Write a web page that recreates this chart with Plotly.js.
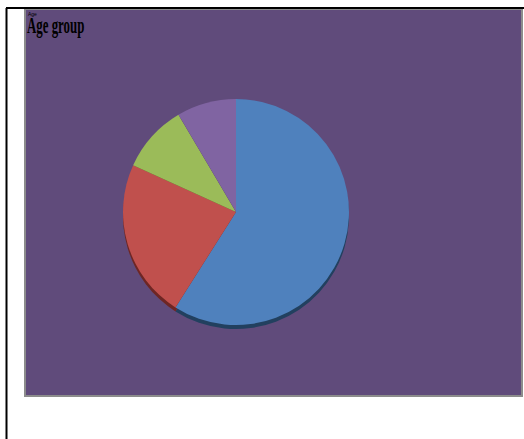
<!DOCTYPE html>
<html>
<head>
<meta charset="utf-8">
<script src="https://cdn.plot.ly/plotly-3.0.1.min.js"></script>
<style>html,body{margin:0;padding:0;background:#fff;}#chart{width:524px;height:439px;}
.annotation.title-anno text{transform-box:fill-box;transform-origin:0 100%;transform:scaleX(0.56);}
</style>
</head>
<body>
<div id="chart"></div>
<script>
var categories = ["Group 1", "Group 2", "Group 3", "Group 4"];
var values = [59.0, 22.8, 9.7, 8.5];
var sliceColors = ["#4F81BD", "#C0504D", "#9BBB59", "#8064A2"];
var shadowColors = ["#22405F", "#6E2624", "#4E6528", "#413054"];
var chartTitle = "Age group";
var smallLabel = "Age";

var W = 524, H = 439;
function px(x){ return x / W; }
function py(y){ return 1 - y / H; }

var cx = 236, cy = 212, r = 113;

var shadow = {
  type: "pie", values: values, labels: categories, sort: false, direction: "clockwise", rotation: 0,
  marker: {colors: shadowColors, line: {width: 0}},
  textinfo: "none", hoverinfo: "none", showlegend: false,
  domain: {x: [px(cx - r), px(cx + r)], y: [py(cy + 4 + r), py(cy + 4 - r)]}
};
var pie = {
  type: "pie", values: values, labels: categories, sort: false, direction: "clockwise", rotation: 0,
  marker: {colors: sliceColors, line: {width: 0}},
  textinfo: "none", hoverinfo: "label+percent", showlegend: false,
  domain: {x: [px(cx - r), px(cx + r)], y: [py(cy + r), py(cy - r)]}
};

var layout = {
  width: W, height: H,
  margin: {l: 0, r: 0, t: 0, b: 0},
  paper_bgcolor: "#ffffff",
  showlegend: false,
  shapes: [
    {type: "rect", xref: "paper", yref: "paper", x0: px(25), x1: px(522), y0: py(396), y1: py(9),
     fillcolor: "#604B7B", line: {color: "#8C8C8C", width: 2}, layer: "below"},
    {type: "line", xref: "paper", yref: "paper", x0: px(6.5), x1: px(6.5), y0: 0, y1: py(8),
     line: {color: "#000000", width: 2}},
    {type: "line", xref: "paper", yref: "paper", x0: px(6), x1: 1, y0: py(8), y1: py(8),
     line: {color: "#000000", width: 2}}
  ],
  annotations: [
    {text: "<b>" + chartTitle + "</b>", xref: "paper", yref: "paper", x: px(25), y: py(11),
     xanchor: "left", yanchor: "top", showarrow: false,
     font: {family: "Liberation Serif", size: 23, color: "#000000"}},
    {text: smallLabel, xref: "paper", yref: "paper", x: px(26), y: py(9),
     xanchor: "left", yanchor: "top", showarrow: false,
     font: {family: "Liberation Sans", size: 5, color: "#000000"}}
  ]
};

Plotly.newPlot("chart", [shadow, pie], layout, {displayModeBar: false, staticPlot: true}).then(function(){
  var annos = document.querySelectorAll("#chart .annotation");
  if (annos.length) annos[0].classList.add("title-anno");
});
</script>
</body>
</html>
